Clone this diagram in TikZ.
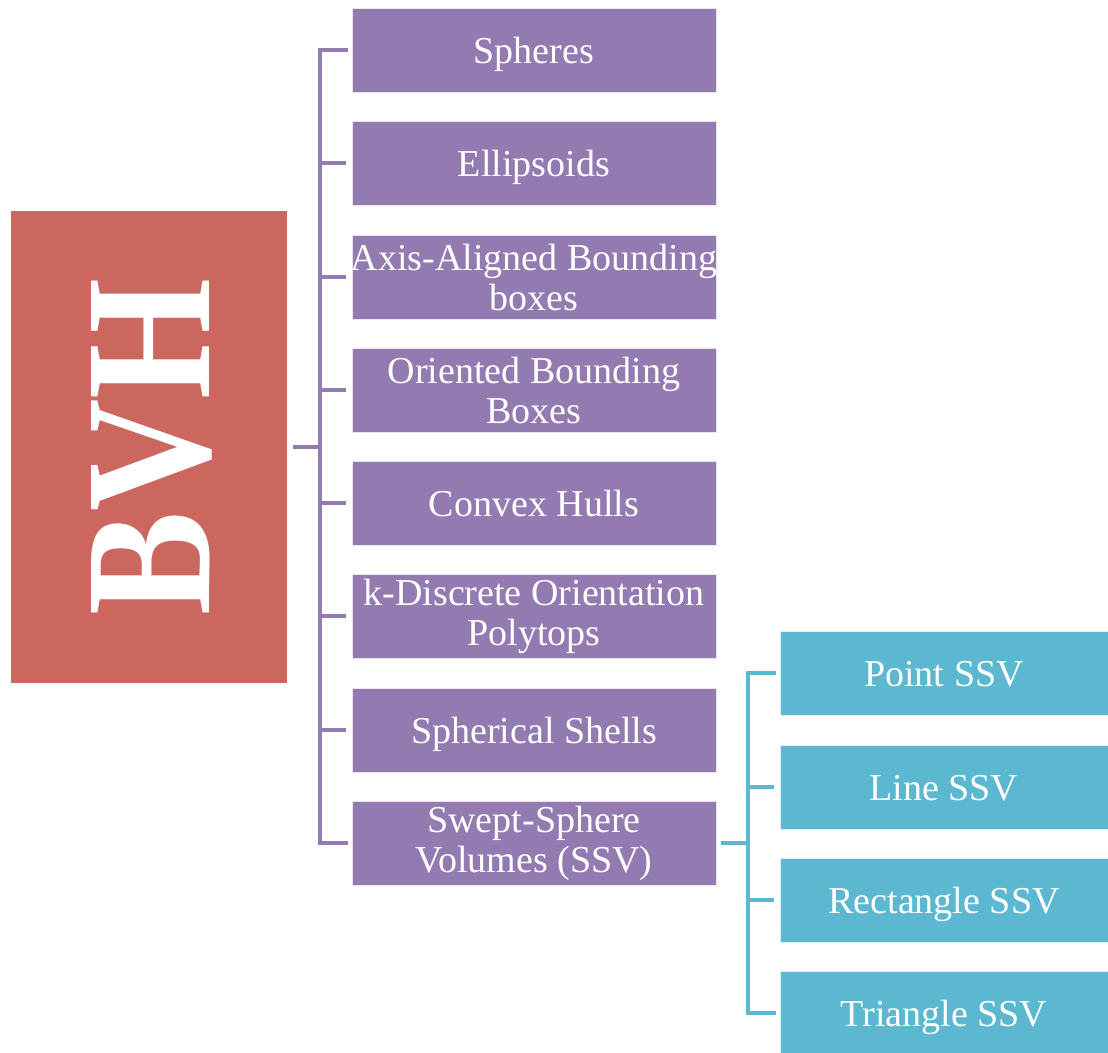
\documentclass[tikz,border=0pt]{standalone}
\usepackage{fontspec}
\setmainfont{Liberation Serif}
\definecolor{bvhred}{RGB}{204,103,96}
\definecolor{bvhpurple}{RGB}{147,123,178}
\definecolor{bvhblue}{RGB}{92,184,209}
\begin{document}
\begin{tikzpicture}[x=1pt,y=-1pt,
  catbox/.style={fill=bvhpurple,draw=white!80!bvhpurple,line width=0.8pt,minimum width=364pt,minimum height=84pt,
    inner sep=0pt,text=white,align=center,font=\fontsize{38}{40}\selectfont},
  ssvbox/.style={fill=bvhblue,draw=white!80!bvhblue,line width=0.8pt,minimum width=328pt,minimum height=84pt,
    inner sep=0pt,text=white,align=center,font=\fontsize{38}{40}\selectfont},
  oneline/.style={text height=27pt,text depth=0pt},
  plink/.style={draw=bvhpurple,line width=4pt},
  blink/.style={draw=bvhblue,line width=4pt}]
\useasboundingbox (0,0) rectangle (1108,1052);
\node[fill=bvhred,minimum width=276pt,minimum height=472pt,inner sep=0pt] (bvh) at (149,447) {};
\node[text=white,rotate=90,inner sep=0pt] (bvhtext) at (152,447)
  {\resizebox{337pt}{118pt}{\bfseries BVH}};
\node[catbox,oneline] (c1) at (534,50) {Spheres};
\node[catbox,oneline] (c2) at (534,163) {Ellipsoids};
\node[catbox] (c3) at (534,277) {\makebox[360pt]{Axis-Aligned Bounding}\\boxes};
\node[catbox] (c4) at (534,390) {Oriented Bounding\\Boxes};
\node[catbox,oneline] (c5) at (534,503) {Convex Hulls};
\node[catbox] (c6) at (534,616) {k-Discrete Orientation\\Polytops};
\node[catbox,oneline] (c7) at (534,730) {Spherical Shells};
\node[catbox] (c8) at (534,843) {Swept-Sphere\\Volumes (SSV)};
\node[ssvbox,oneline] (s1) at (944,673) {Point SSV};
\node[ssvbox,oneline] (s2) at (944,787) {Line SSV};
\node[ssvbox,oneline] (s3) at (944,900) {Rectangle SSV};
\node[ssvbox,oneline] (s4) at (944,1013) {Triangle SSV};
% purple bracket
\coordinate (pv) at (320,0);
\draw[plink] ([xshift=6pt]bvh.east) -- (pv |- bvh.east);
\draw[plink,line cap=rect] ([xshift=-6pt]c1.west) -- (pv |- c1.west) -- (pv |- c8.west) -- ([xshift=-6pt]c8.west);
\foreach \n in {c2,c3,c4,c5,c6,c7}
  \draw[plink] (pv |- \n.west) -- ([xshift=-6pt]\n.west);
% blue bracket
\coordinate (bv) at (748,0);
\draw[blink] ([xshift=5pt]c8.east) -- (bv |- c8.east);
\draw[blink,line cap=rect] ([xshift=-6pt]s1.west) -- (bv |- s1.west) -- (bv |- s4.west) -- ([xshift=-6pt]s4.west);
\foreach \n in {s2,s3}
  \draw[blink] (bv |- \n.west) -- ([xshift=-6pt]\n.west);
\end{tikzpicture}
\end{document}
